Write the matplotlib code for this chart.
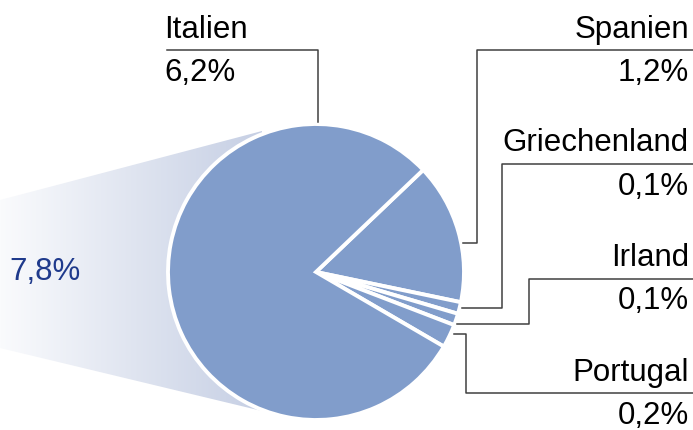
import matplotlib.pyplot as plt
import numpy as np
from matplotlib.patches import Polygon
from matplotlib.colors import LinearSegmentedColormap

plt.rcParams['font.family'] = ['Liberation Sans', 'DejaVu Sans']

# data
countries = ['Spanien', 'Griechenland', 'Irland', 'Portugal', 'Italien']
values = [1.2, 0.1, 0.1, 0.2, 6.2]
total = 7.8

def fmt(v):
    return f"{v:.1f}%".replace('.', ',')

W, H = 693, 430
fig = plt.figure(figsize=(W / 100, H / 100), dpi=100)
ax = fig.add_axes([0, 0, 1, 1])

# pie (pixel coords, y upwards)
cx, cy, r = 316, H - 272, 148
pie_col = '#819dcb'

# gradient wedge behind the pie
poly = Polygon([(0, H - 200), (262, H - 131), (262, H - 411), (0, H - 348)],
               closed=True, facecolor='none', edgecolor='none')
ax.add_patch(poly)
grad = np.linspace(0, 1, 256).reshape(1, -1)
cmap = LinearSegmentedColormap.from_list('g', ['#fafbfd', '#c6cfe4'])
im = ax.imshow(grad, cmap=cmap, extent=[0, 262, H - 411, H - 131],
               aspect='auto', zorder=1)
im.set_clip_path(poly)

wedges, _ = ax.pie(values, center=(cx, cy), radius=r, startangle=43.6,
                   counterclock=False, colors=[pie_col] * len(values),
                   wedgeprops=dict(edgecolor='white', linewidth=2.8))
for w in wedges:
    w.set_zorder(2)

# leader lines (pixel coords from top)
lc = '#404040'
leaders = {
    'Italien':      [(167, 50), (318, 50), (318, 122)],
    'Spanien':      [(693, 50), (477, 50), (477, 243), (463, 243)],
    'Griechenland': [(693, 164), (502, 164), (502, 308), (462, 308)],
    'Irland':       [(693, 279), (529, 279), (529, 324), (457, 324)],
    'Portugal':     [(693, 393), (466, 393), (466, 334), (454, 334)],
}
for name, pts in leaders.items():
    xs = [p[0] for p in pts]
    ys = [H - p[1] for p in pts]
    ax.plot(xs, ys, color=lc, lw=1.1, zorder=3)

# labels
fs = 22.5
name_y = {'Spanien': 30, 'Griechenland': 143, 'Irland': 258, 'Portugal': 373}
val_y = {'Spanien': 73, 'Griechenland': 187, 'Irland': 301, 'Portugal': 416}
for name, v in zip(countries, values):
    if name == 'Italien':
        ax.text(164, H - 30, name, fontsize=fs, ha='left', va='center')
        ax.text(164, H - 73, fmt(v), fontsize=fs, ha='left', va='center')
    else:
        ax.text(689, H - name_y[name], name, fontsize=fs, ha='right', va='center')
        ax.text(689, H - val_y[name], fmt(v), fontsize=fs, ha='right', va='center')

ax.text(9, H - 272, fmt(total), fontsize=fs, ha='left', va='center',
        color='#1f3a8c')

ax.set_xlim(0, W)
ax.set_ylim(0, H)
ax.set_aspect('equal')
ax.axis('off')

fig.savefig('out.png', dpi=100)
